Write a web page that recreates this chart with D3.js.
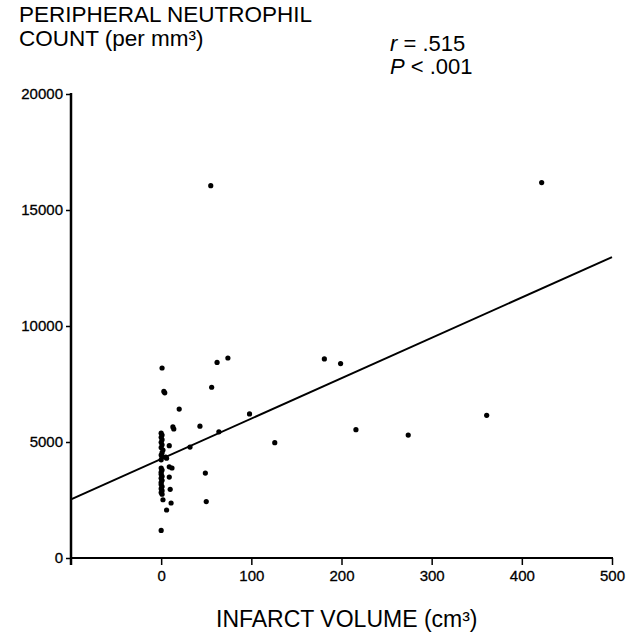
<!DOCTYPE html>
<html>
<head>
<meta charset="utf-8">
<script src="https://cdn.jsdelivr.net/npm/d3@7"></script>
<style>
  body { margin: 0; background: #fff; }
  text { font-family: "Liberation Sans", Arial, Helvetica, sans-serif; fill: #000; }
</style>
</head>
<body>
<div class="chart"></div>
<script>
let width = 628, height = 633;

// infarct volume (cm3) and neutrophil count (per mm3)
let volumes = [1, 3, 4, 20, 13, 14, 43, 56, 62, 74, 98, 64, 32, 9, 126, 181, 199, 216, 274, 361,
    49, 50, 9, 12, 9, 10, 11, 2, 6, 0, 422, 55,
    0, 1, 0, 1, 0, 1, 0, 2, 1, 0, 1, 5, 6, 0,
    0, 1, 0, 0, 1, 0, 1, 0, 0, 1, 0, 1, 0, 1];
let counts = [8190, 7180, 7120, 6420, 5650, 5560, 5680, 7360, 8430, 8620, 6210, 5440, 4780, 4840, 4970, 8580, 8380, 5530, 5300, 6150,
    3660, 2430, 3930, 3880, 3490, 2960, 2370, 2510, 2070, 1190, 16180, 16050,
    5380, 5300, 5200, 5100, 4990, 4880, 4760, 4650, 4540, 4440, 4350, 4350, 4300, 4230,
    3880, 3790, 3700, 3610, 3520, 3440, 3350, 3260, 3170, 3080, 2990, 2900, 2820, 2750];

// regression line end points
let fitX = [-100, 500];
let fitY = [2530, 12970];

let xTicks = [0, 100, 200, 300, 400, 500];
let yTicks = [0, 5000, 10000, 15000, 20000];

let x = d3.scaleLinear().domain([-100, 500]).range([71, 612]);
let y = d3.scaleLinear().domain([0, 20000]).range([558, 94]);

let svg = d3.select(".chart").append("svg")
    .attr("width", width)
    .attr("height", height);

// y axis
let yAxis = svg.append("g")
    .attr("transform", "translate(71,0)")
    .call(d3.axisLeft(y).tickValues(yTicks).tickSize(5).tickSizeOuter(0).tickFormat(d3.format("d")));
yAxis.select(".domain").remove();
yAxis.selectAll(".tick line").attr("stroke-width", 1.5);
yAxis.selectAll(".tick text")
    .attr("x", -8)
    .style("font-size", "15px")
    .style("stroke", "#000").style("stroke-width", 0.3)
    .style("font-family", "'Liberation Sans', Arial, sans-serif");
svg.append("line")
    .attr("x1", 71).attr("x2", 71)
    .attr("y1", y(20000) - 1).attr("y2", y(0) + 7)
    .attr("stroke", "#000").attr("stroke-width", 2.5);

// x axis
let xAxis = svg.append("g")
    .attr("transform", "translate(0," + y(0) + ")")
    .call(d3.axisBottom(x).tickValues(xTicks).tickSize(7).tickSizeOuter(0));
xAxis.select(".domain").remove();
xAxis.selectAll(".tick line").attr("stroke-width", 1.5);
xAxis.selectAll(".tick text")
    .attr("y", 12)
    .style("font-size", "15px")
    .style("stroke", "#000").style("stroke-width", 0.3)
    .style("font-family", "'Liberation Sans', Arial, sans-serif");
svg.append("line")
    .attr("x1", x(-100)).attr("x2", x(500) + 1)
    .attr("y1", y(0)).attr("y2", y(0))
    .attr("stroke", "#000").attr("stroke-width", 2);

// fit line
svg.append("line")
    .attr("x1", x(fitX[0])).attr("y1", y(fitY[0]))
    .attr("x2", x(fitX[1])).attr("y2", y(fitY[1]))
    .attr("stroke", "#000").attr("stroke-width", 2);

// points
svg.append("g").selectAll("circle")
    .data(volumes)
    .join("circle")
    .attr("cx", d => x(d))
    .attr("cy", (d, i) => y(counts[i]))
    .attr("r", 2.6)
    .attr("fill", "#000");

// titles
svg.append("text").attr("x", 19).attr("y", 22)
    .style("font-size", "22.5px")
    .text("PERIPHERAL NEUTROPHIL");
svg.append("text").attr("x", 19).attr("y", 46)
    .style("font-size", "22.5px")
    .text("COUNT (per mm³)");

let stats = svg.append("text").attr("x", 390).attr("y", 51).style("font-size", "22px");
stats.append("tspan").style("font-style", "italic").text("r");
stats.append("tspan").text(" = .515");
let stats2 = svg.append("text").attr("x", 390).attr("y", 74).style("font-size", "22px");
stats2.append("tspan").style("font-style", "italic").text("P");
stats2.append("tspan").text(" < .001");

svg.append("text")
    .attr("x", 216).attr("y", 627)
    .style("font-size", "23px")
    .text("INFARCT VOLUME (cm³)");
</script>
</body>
</html>
